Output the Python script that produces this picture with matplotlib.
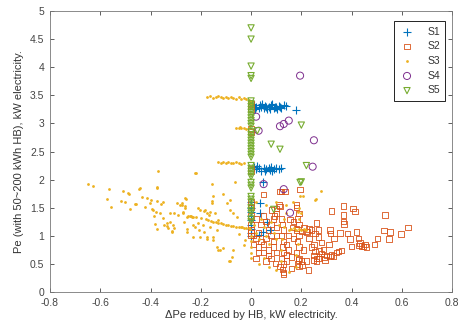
import matplotlib
matplotlib.use("Agg")
import matplotlib.pyplot as plt

plt.rcParams['font.family'] = ['Liberation Sans', 'DejaVu Sans']

# S1: blue plus markers
s1_x = [0.005, 0.01, 0.015, 0.02, 0.03, 0.035, 0.04, 0.045, 0.05, 0.055, 0.06, 0.065, 0.07, 0.075,
        0.08, 0.085, 0.09, 0.095, 0.1, 0.105, 0.11, 0.115, 0.12, 0.13, 0.14, 0.18,
        0.01, 0.02, 0.025, 0.03, 0.04, 0.05, 0.055, 0.06, 0.07, 0.075, 0.08, 0.085, 0.09, 0.1, 0.11, 0.12,
        0.049, 0.0, 0.0, 0.0, 0.0, 0.0, 0.0, 0.0, 0.0, 0.0, 0.062, 0.049, 0.075, 0.03, 0.036, 0.036]
s1_y = [3.35, 3.33, 3.25, 3.3, 3.28, 3.32, 3.3, 3.34, 3.27, 3.31, 3.29, 3.25, 3.3, 3.26,
        3.32, 3.34, 3.28, 3.3, 3.29, 3.26, 3.31, 3.3, 3.28, 3.32, 3.31, 3.24,
        2.22, 2.18, 2.24, 2.2, 2.16, 2.21, 2.15, 2.19, 2.2, 2.17, 2.22, 2.16, 2.19, 2.2, 2.18, 2.2,
        1.96, 1.6, 1.5, 1.42, 1.35, 1.28, 1.2, 1.12, 1.05, 1.0, 1.25, 1.07, 1.1, 1.01, 1.4, 1.58]

# S2: orange squares
s2_x = [0.533, 0.529, 0.553, 0.624, 0.596, 0.549, 0.504, 0.491, 0.454, 0.447, 0.46, 0.44, 0.43,
        0.122, 0.182, 0.082, 0.102, 0.115, 0.321, 0.367, 0.414, 0.367, 0.367, 0.37, 0.261, 0.222,
        0.241, 0.255, 0.268, 0.314, 0.317, 0.354, 0.383, 0.42, 0.394, 0.427, 0.434, 0.40, 0.361,
        0.348, 0.328, 0.314, 0.288, 0.281, 0.294, 0.261, 0.248, 0.255, 0.208, 0.228, 0.202, 0.188,
        0.162, 0.129, 0.115, 0.142, 0.096, 0.405, 0.268, 0.219, 0.155, 0.168, 0.182, 0.202, 0.115,
        0.135, 0.049, 0.195, 0.111, 0.102, 0.093,
        0.0, 0.0, 0.0, 0.0, 0.0, 0.0, 0.0, 0.0, 0.0, 0.0, 0.0, 0.0, 0.0, 0.0,
        0.01, 0.02, 0.03, 0.04, 0.05, 0.06, 0.07, 0.08, 0.03, 0.05, 0.07, 0.09, 0.02, 0.08, 0.06,
        0.1, 0.04, 0.06, 0.08, 0.09, 0.02, 0.05, 0.1, 0.1, 0.09, 0.03, 0.07, 0.01,
        0.12, 0.125, 0.13, 0.12, 0.13, 0.125, 0.13, 0.12, 0.13, 0.125, 0.13, 0.14, 0.14, 0.15, 0.15,
        0.18, 0.19, 0.185, 0.19, 0.18, 0.19, 0.185, 0.19, 0.18, 0.19, 0.185, 0.19, 0.2, 0.17, 0.165,
        0.21, 0.23, 0.16,
        0.22, 0.24, 0.25, 0.27, 0.29, 0.3, 0.32, 0.34, 0.27, 0.23, 0.25, 0.28, 0.31, 0.33, 0.26]
s2_y = [1.37, 1.09, 1.07, 1.15, 1.03, 0.94, 0.95, 0.84, 0.85, 0.81, 0.80, 0.82, 0.83,
        1.79, 1.55, 1.46, 1.49, 1.52, 1.44, 1.53, 1.43, 1.37, 1.25, 1.21, 1.23, 1.07,
        1.10, 1.04, 1.10, 1.10, 1.04, 1.05, 1.04, 1.07, 0.94, 0.95, 0.87, 0.81, 0.74,
        0.72, 0.64, 0.63, 0.76, 0.69, 0.57, 0.60, 0.57, 0.72, 0.75, 0.39, 0.48, 0.57,
        0.42, 0.32, 0.45, 0.66, 0.51, 1.49, 0.98, 1.08, 1.29, 1.25, 1.13, 1.08, 1.79,
        1.79, 1.73, 1.82, 1.55, 1.40, 1.35,
        3.35, 3.3, 3.25, 2.9, 2.85, 2.2, 2.15, 1.6, 1.5, 1.35, 1.2, 1.1, 1.05, 1.0,
        1.0, 0.95, 1.05, 0.9, 0.85, 0.95, 1.1, 1.0, 0.8, 0.7, 0.75, 0.8, 0.6, 0.6, 0.55,
        0.7, 1.2, 1.25, 1.2, 1.3, 1.3, 1.35, 1.15, 1.0, 0.9, 0.7, 0.65, 0.85,
        1.3, 1.2, 1.1, 1.0, 0.9, 0.8, 0.7, 0.6, 0.5, 0.4, 0.35, 0.55, 0.85, 1.0, 0.75,
        1.5, 1.4, 1.3, 1.2, 1.1, 1.0, 0.9, 0.8, 0.7, 0.6, 0.5, 0.45, 0.55, 0.95, 1.15,
        1.15, 1.12, 0.62,
        0.55, 0.8, 0.65, 0.6, 0.62, 0.65, 0.66, 0.7, 0.73, 0.95, 0.85, 0.88, 0.85, 0.95, 0.54]

# S3: yellow dots
s3_x = [-0.650, -0.628, -0.566, -0.511, -0.49, -0.484, -0.442, -0.369, -0.373, -0.375, -0.574,
        -0.519, -0.5, -0.558, -0.463, -0.458, -0.481, -0.434, -0.415, -0.397, -0.402, -0.421,
        -0.395, -0.389, -0.375, -0.357, -0.351, -0.378, -0.362, -0.385, -0.382, -0.373, -0.345,
        -0.335, -0.322, -0.322, -0.306, -0.316, -0.306, -0.296, -0.283, -0.276, -0.263, -0.289,
        -0.269, -0.259, -0.256, -0.265, -0.256, -0.219, -0.155, -0.444, -0.263, -0.203, -0.187,
        -0.176, -0.166, -0.155, -0.15, -0.11, -0.206, -0.187, -0.176, -0.15, -0.13, -0.137,
        -0.086, -0.233, -0.223, -0.256, -0.309, -0.335, -0.349, -0.329, -0.316,
        -0.223, -0.064, -0.156, -0.276, -0.263, -0.269, -0.21, -0.183, -0.163, -0.143, -0.13,
        -0.21, -0.19, -0.163, -0.137, -0.23, -0.203, -0.176, -0.15, -0.123, -0.11, -0.077,
        -0.084, -0.07, -0.037, -0.05, -0.024, -0.03, -0.084, -0.07, -0.057, -0.097, -0.084,
        # tail towards zero
        -0.25, -0.245, -0.24, -0.235, -0.23, -0.22, -0.2, -0.18, -0.17, -0.16, -0.15, -0.14,
        -0.13, -0.12, -0.11, -0.1, -0.09, -0.08, -0.07, -0.06, -0.05, -0.04, -0.03, -0.02,
        -0.01, -0.005,
        # band at 3.47
        -0.175, -0.165, -0.15, -0.14, -0.13, -0.12, -0.11, -0.1, -0.09, -0.08, -0.07, -0.06,
        -0.05, -0.04, -0.03, -0.02, -0.01, -0.005, 0.0, 0.0,
        # band at 2.92
        -0.06, -0.05, -0.045, -0.04, -0.03, -0.02, -0.01,
        # band at 2.3
        -0.13, -0.12, -0.11, -0.1, -0.09, -0.08, -0.07, -0.06, -0.05, -0.04, -0.03,
        # right of zero
        0.01, 0.02, 0.03, 0.04, 0.05, 0.06, 0.07, 0.08, 0.09, 0.1, 0.11, 0.12, 0.12, 0.125,
        0.13, 0.13, 0.14, 0.15, 0.16, 0.17, 0.18, 0.19, 0.2, 0.21, 0.22, 0.18, 0.18, 0.185,
        0.19, 0.19, 0.195, 0.188, 0.2, 0.208, 0.255, 0.168, 0.259, 0.05, 0.03, 0.07, 0.1,
        0.15, 0.0, 0.0, 0.0, 0.0, 0.0, 0.02, 0.06, 0.1, 0.14, 0.28]
s3_y = [1.92, 1.89, 1.83, 1.79, 1.77, 1.74, 1.85, 2.15, 1.87, 1.85, 1.65,
        1.62, 1.61, 1.52, 1.56, 1.57, 1.47, 1.69, 1.67, 1.64, 1.58, 1.52,
        1.47, 1.46, 1.62, 1.56, 1.61, 1.43, 1.41, 1.35, 1.21, 1.12, 1.20,
        1.17, 1.25, 1.40, 1.41, 1.07, 1.14, 1.58, 1.55, 1.58, 1.53, 1.37,
        1.40, 1.65, 1.34, 1.25, 1.07, 2.12, 1.92, 1.84, 1.67, 1.46, 1.45,
        1.40, 1.37, 1.62, 1.71, 1.74, 1.10, 1.07, 0.98, 0.98, 0.75, 0.80,
        0.55, 1.19, 1.16, 1.12, 1.19, 1.23, 1.31, 1.13, 1.09,
        2.11, 1.96, 1.59, 1.55, 1.49, 1.43, 1.49, 1.46, 1.43, 1.40, 1.28,
        1.23, 1.19, 1.15, 1.10, 0.98, 0.98, 0.95, 0.93, 0.75, 0.78, 0.63,
        0.56, 0.75, 1.16, 1.04, 0.93, 0.84, 1.46, 1.40, 1.34, 1.58, 1.64,
        1.36, 1.35, 1.36, 1.34, 1.34, 1.33, 1.31, 1.29, 1.28, 1.26, 1.25, 1.24,
        1.23, 1.22, 1.21, 1.2, 1.19, 1.18, 1.17, 1.16, 1.15, 1.15, 1.14, 1.13,
        1.13, 1.12,
        3.47, 3.48, 3.46, 3.47, 3.49, 3.47, 3.46, 3.47, 3.45, 3.47, 3.46, 3.44,
        3.47, 3.43, 3.45, 3.44, 3.42, 3.38, 3.35, 3.4,
        2.92, 2.91, 2.93, 2.92, 2.92, 2.9, 2.91,
        2.31, 2.3, 2.32, 2.3, 2.31, 2.29, 2.3, 2.31, 2.29, 2.28, 2.3,
        1.2, 1.05, 0.95, 1.3, 1.15, 1.0, 0.85, 1.25, 1.05, 0.95, 1.2, 0.55, 0.75, 0.95,
        1.15, 1.3, 1.4, 1.1, 1.12, 1.14, 1.1, 1.12, 1.1, 1.12, 1.1, 0.45, 0.65, 0.85,
        1.3, 1.5, 1.7, 1.43, 1.40, 1.70, 1.64, 1.61, 1.65, 0.6, 0.5, 0.45, 0.4,
        0.35, 1.0, 0.9, 0.8, 0.7, 0.6, 1.6, 1.55, 1.6, 1.55, 1.8]

# S4: purple circles
s4_x = [0.195, 0.02, 0.115, 0.13, 0.15, 0.25, 0.245, 0.05, 0.13, 0.155, 0.03]
s4_y = [3.85, 3.12, 2.95, 2.99, 3.05, 2.70, 2.23, 1.92, 1.83, 1.41, 2.87]

# S5: green down-triangles
s5_x = [0.0] * 41 + [0.2, 0.08, 0.115, 0.22, 0.195, 0.2, 0.09, 0.025]
s5_y = [4.7, 4.5, 4.02, 3.85, 3.8, 3.4, 3.35, 3.3, 3.25, 3.2, 3.15, 3.1, 3.05, 3.0, 2.95,
        2.85, 2.8, 2.75, 2.7, 2.65, 2.6, 2.55, 2.5, 2.45, 2.4, 2.25, 2.2, 2.15, 2.1, 2.05,
        1.95, 1.9, 1.85, 1.7, 1.65, 1.6, 1.5, 1.45, 1.4, 1.3, 1.25,
        2.97, 2.63, 2.54, 2.25, 1.95, 1.96, 1.47, 2.87]

c1 = (0, 0.447, 0.741)
c2 = (0.85, 0.325, 0.098)
c3 = (0.929, 0.694, 0.125)
c4 = (0.494, 0.184, 0.556)
c5 = (0.466, 0.674, 0.188)

fig = plt.figure(figsize=(4.59, 3.29), dpi=100)
ax = fig.add_axes([0.109, 0.1125, 0.876, 0.854])

ax.scatter(s1_x, s1_y, marker='+', s=30, color=c1, linewidths=0.8, label='S1')
ax.scatter(s2_x, s2_y, marker='s', s=15, facecolors='none', edgecolors=c2, linewidths=0.6, label='S2')
ax.scatter(s3_x, s3_y, marker='o', s=4, color=c3, linewidths=0, label='S3')
ax.scatter(s4_x, s4_y, marker='o', s=26, facecolors='none', edgecolors=c4, linewidths=0.7, label='S4')
ax.scatter(s5_x, s5_y, marker='v', s=20, facecolors='none', edgecolors=c5, linewidths=0.8, label='S5')

ax.set_xlim(-0.8, 0.8)
ax.set_ylim(0, 5)
ax.set_xticks([-0.8, -0.6, -0.4, -0.2, 0, 0.2, 0.4, 0.6, 0.8])
ax.set_xticklabels(['-0.8', '-0.6', '-0.4', '-0.2', '0', '0.2', '0.4', '0.6', '0.8'])
ax.set_yticks([0, 0.5, 1, 1.5, 2, 2.5, 3, 3.5, 4, 4.5, 5])
ax.set_yticklabels(['0', '0.5', '1', '1.5', '2', '2.5', '3', '3.5', '4', '4.5', '5'])
ax.tick_params(direction='in', top=True, right=True, length=3, width=0.6,
               labelsize=7.5, colors='#444444', pad=4)
for sp in ax.spines.values():
    sp.set_linewidth(0.6)
    sp.set_color('#777777')

ax.set_xlabel('\u0394Pe reduced by HB, kW electricity.', fontsize=8, color='#333333', labelpad=2)
ax.set_ylabel('Pe (with 50~200 kWh HB), kW electricity.', fontsize=8, color='#333333', labelpad=4)

leg = ax.legend(loc='upper right', bbox_to_anchor=(0.983, 0.963), fontsize=7.5,
                fancybox=False, edgecolor='black', framealpha=1, borderpad=0.5,
                handletextpad=1.2, labelspacing=0.45, handlelength=1.5, borderaxespad=0,
                markerscale=1.0)
leg.get_frame().set_linewidth(0.6)
for t in leg.get_texts():
    t.set_color('#333333')

fig.savefig('out.png', dpi=100)
